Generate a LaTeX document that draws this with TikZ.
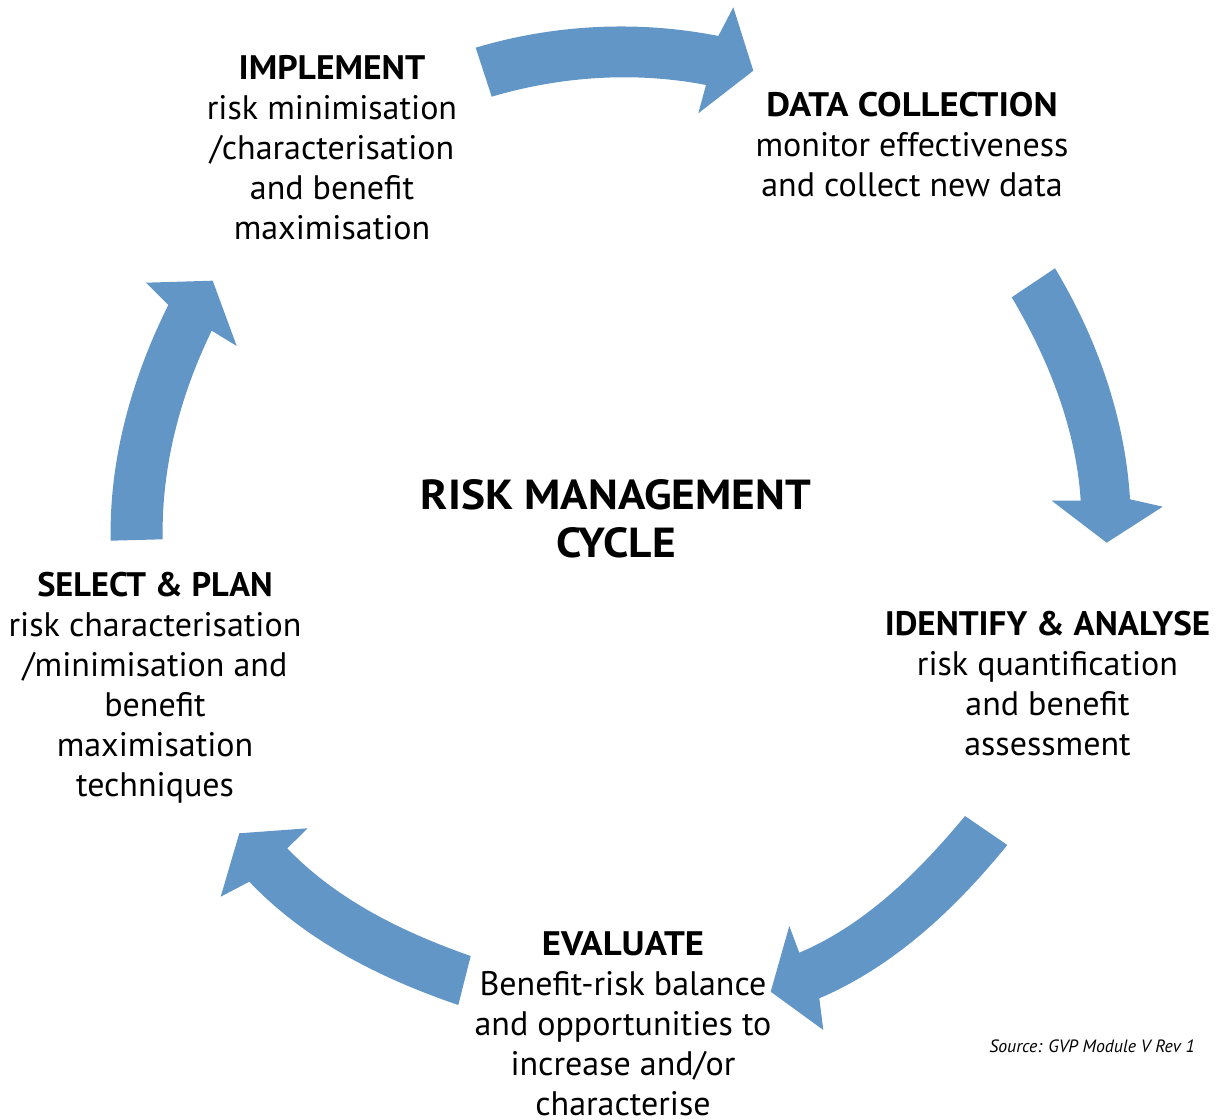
\documentclass[tikz,border=0pt]{standalone}
\usepackage{graphicx}
\usepackage{fontspec}
\setmainfont{PT Sans}[BoldFeatures={FakeStretch=1.08}]
\definecolor{cycblue}{RGB}{98,150,199}
\newcommand{\hsq}[2]{\scalebox{#1}[1]{\textbf{#2}}}
\tikzset{
  cyc/.style={fill=cycblue, draw=none},
  lbl/.style={align=center, inner sep=0pt, font=\fontsize{34}{40}\selectfont},
  ttl/.style={align=center, inner sep=0pt, font=\fontsize{42}{48}\selectfont\bfseries},
  src/.style={inner sep=0pt, font=\fontsize{17.8}{20}\selectfont\itshape},
  arc/.style={looseness=0.86}
}
\begin{document}
\begin{tikzpicture}[x=1pt,y=1pt]
\useasboundingbox (0,0) rectangle (1220,1119);
\clip (0,0) rectangle (1220,1119);
% arrow 1 (top)
\fill[cyc] (475.7,1071.3) to[out=16.66,in=168.75,arc] (718.3,1083) -- (733.3,1111.7) -- (753.3,1048.3) -- (698.3,1005.7) -- (706,1034) to[out=169.06,in=16.49,arc] (491.7,1022.3) -- cycle;
% arrow 2 (right)
\fill[cyc] (1055,850.7) to[out=-58.97,in=93.44,arc] (1130,619.7) -- (1162.7,612.3) -- (1106.7,576.3) -- (1051.7,618.3) -- (1080.7,618.3) to[out=93.64,in=-59.29,arc] (1011.7,821.7) -- cycle;
% arrow 3 (lower right)
\fill[cyc] (1007.3,274) to[out=-129.12,in=23.06,arc] (819.3,120.7) -- (823.3,89) -- (770.7,127.3) -- (789.3,193) -- (799.3,166.3) to[out=22.98,in=-129.66,arc] (965,303) -- cycle;
% arrow 4 (lower left)
\fill[cyc] (458.3,114) to[out=161.2,in=-46.5,arc] (249.3,237.3) -- (220.7,222.3) -- (239.3,285.7) -- (307.7,290.7) -- (287.3,270.7) to[out=-46.27,in=160.7,arc] (470.7,163) -- cycle;
% arrow 5 (left)
\fill[cyc] (110.7,578.3) to[out=91.2,in=243.52,arc] (168.3,814) -- (146,836.3) -- (212.7,838.3) -- (236.7,773) -- (211.7,788.3) to[out=243.99,in=91.17,arc] (162.7,579.7) -- cycle;

\node[lbl] (impl) at (332,971) {\hsq{0.97}{IMPLEMENT}\\risk minimisation\\/characterisation\\and benefit\\maximisation};
\node[lbl] (data) at (912,974.5) {\textbf{DATA COLLECTION}\\monitor effectiveness\\and collect new data};
\node[ttl] (title) at (616,600) {RISK MANAGEMENT\\CYCLE};
\node[lbl] (select) at (155,431) {\hsq{0.936}{SELECT \& PLAN}\\risk characterisation\\/minimisation and\\benefit\\maximisation\\techniques};
\node[lbl] (ident) at (1047.5,435.5) {\hsq{0.955}{IDENTIFY \& ANALYSE}\\risk quantification\\and benefit\\assessment};
\node[lbl] (eval) at (623,95.5) {\textbf{EVALUATE}\\Benefit-risk balance\\and opportunities to\\increase and/or\\characterise};
\node[src, anchor=base east] (source) at (1195,67) {Source: GVP Module V Rev 1};
\end{tikzpicture}
\end{document}
